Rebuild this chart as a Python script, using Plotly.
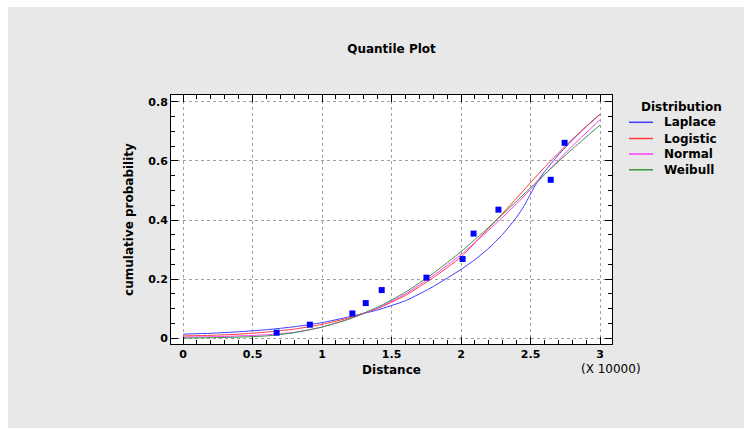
import plotly.graph_objects as go

# ---------------- data (x in units of 10000) ----------------
obs_x = [0.673, 0.912, 1.218, 1.314, 1.429, 1.751, 2.011, 2.090, 2.269, 2.645, 2.745]
obs_y = [0.019, 0.046, 0.084, 0.119, 0.163, 0.205, 0.268, 0.354, 0.435, 0.536, 0.661]

grid_x = [0.0, 0.2, 0.4, 0.6, 0.8, 1.0, 1.2, 1.4, 1.6, 1.8, 2.0, 2.2, 2.4, 2.6, 2.8, 3.0]

laplace_x = [0.0, 0.2, 0.4, 0.6, 0.8, 1.0, 1.2, 1.4, 1.6, 1.8, 2.0, 2.1, 2.2, 2.3, 2.4,
             2.45, 2.5, 2.55, 2.6, 2.7, 2.8, 2.9, 3.0]
laplace_y = [0.014, 0.017, 0.022, 0.029, 0.039, 0.053, 0.073, 0.096, 0.127, 0.175, 0.233,
             0.266, 0.305, 0.352, 0.410, 0.445, 0.488, 0.530, 0.563, 0.620, 0.670, 0.716, 0.758]
logistic_y = [0.008, 0.010, 0.014, 0.021, 0.031, 0.047, 0.070, 0.101, 0.145, 0.205, 0.275,
              0.373, 0.474, 0.578, 0.673, 0.757]
normal_y = [0.004, 0.005, 0.008, 0.012, 0.020, 0.038, 0.066, 0.102, 0.150, 0.212, 0.283,
            0.366, 0.455, 0.553, 0.650, 0.739]
weibull_y = [0.001, 0.002, 0.004, 0.008, 0.019, 0.038, 0.066, 0.105, 0.156, 0.220, 0.293,
             0.376, 0.464, 0.554, 0.640, 0.721]

dist_names = ["Laplace", "Logistic", "Normal", "Weibull"]
dist_colors = ["#3c3cff", "#ff3c3c", "#ff3cff", "#3c963c"]

x_ticks = [0, 0.5, 1, 1.5, 2, 2.5, 3]
y_ticks = [0, 0.2, 0.4, 0.6, 0.8]

# ---------------- layout geometry ----------------
W, H = 747, 430
L, R, T, B = 171, 135, 95, 86
PW, PH = W - L - R, H - T - B


def px(x):
    return (x - L) / PW


def py(y):
    return (H - B - y) / PH


FONT = "DejaVu Sans"

fig = go.Figure()

series = [
    (laplace_x, laplace_y),
    (grid_x, logistic_y),
    (grid_x, normal_y),
    (grid_x, weibull_y),
]
for (xs, ys), name, col in zip(series, dist_names, dist_colors):
    fig.add_trace(go.Scatter(
        x=xs, y=ys, mode="lines", name=name,
        line=dict(color=col, width=1, shape="spline", smoothing=0.5),
        showlegend=False, hoverinfo="skip"))

fig.add_trace(go.Scatter(
    x=obs_x, y=obs_y, mode="markers", name="data",
    marker=dict(symbol="square", size=6, color="#0000ff", line=dict(width=0)),
    showlegend=False))

axis_common = dict(
    showline=True, linecolor="black", linewidth=1, mirror="ticks",
    ticks="inside", ticklen=7, tickcolor="black", tickwidth=1,
    showgrid=True, gridcolor="#a0a0a0", gridwidth=1, griddash="3px,3px",
    zeroline=False,
    tickfont=dict(family=FONT, size=11, color="black", weight="bold"),
)

fig.update_xaxes(
    range=[-0.087, 3.086], tickmode="array", tickvals=x_ticks,
    ticktext=[f"{v:g}" for v in x_ticks],
    minor=dict(ticks="inside", ticklen=4, dtick=0.1, tick0=0, tickcolor="black", showgrid=False),
    title=dict(text="Distance", font=dict(family=FONT, size=12, color="black", weight="bold"),
               standoff=5),
    **axis_common)
fig.update_yaxes(
    range=[-0.0193, 0.8227], tickmode="array", tickvals=y_ticks,
    ticktext=[f"{v:g}" for v in y_ticks],
    minor=dict(ticks="inside", ticklen=4, dtick=0.05, tick0=0, tickcolor="black", showgrid=False),
    title=dict(text="cumulative probability",
               font=dict(family=FONT, size=12, color="black", weight="bold"), standoff=12),
    **axis_common)

shapes = [
    # grey panel
    dict(type="rect", xref="paper", yref="paper", x0=px(8), x1=px(744), y0=py(428), y1=py(7),
         fillcolor="#e8e8e8", line=dict(width=0), layer="below"),
    # white plot area
    dict(type="rect", xref="paper", yref="paper", x0=0, x1=1, y0=0, y1=1,
         fillcolor="white", line=dict(width=0), layer="below"),
]

annotations = [
    dict(text="(X 10000)", xref="paper", yref="paper", x=px(611), y=py(369),
         xanchor="center", yanchor="middle", showarrow=False,
         font=dict(family=FONT, size=12, color="black")),
    dict(text="Distribution", xref="paper", yref="paper", x=px(681.5), y=py(106.5),
         xanchor="center", yanchor="middle", showarrow=False,
         font=dict(family=FONT, size=12, color="black", weight="bold")),
]

legend_rows = [122.3, 138.5, 154.0, 169.8]
for name, col, ry in zip(dist_names, dist_colors, legend_rows):
    shapes.append(dict(type="line", xref="paper", yref="paper",
                       x0=px(629), x1=px(653), y0=py(ry), y1=py(ry),
                       line=dict(color=col, width=1.5)))
    annotations.append(dict(text=name, xref="paper", yref="paper", x=px(662), y=py(ry),
                            xanchor="left", yanchor="middle", showarrow=False,
                            font=dict(family=FONT, size=12, color="black", weight="bold")))

fig.update_layout(
    width=W, height=H,
    margin=dict(l=L, r=R, t=T, b=B, pad=0),
    paper_bgcolor="white", plot_bgcolor="white",
    title=dict(text="Quantile Plot", x=0.5, xref="paper", xanchor="center",
               y=1 - 49 / H, yref="container", yanchor="middle",
               font=dict(family=FONT, size=12, color="black", weight="bold")),
    shapes=shapes, annotations=annotations,
    showlegend=False,
)

fig.write_html("out.html")
